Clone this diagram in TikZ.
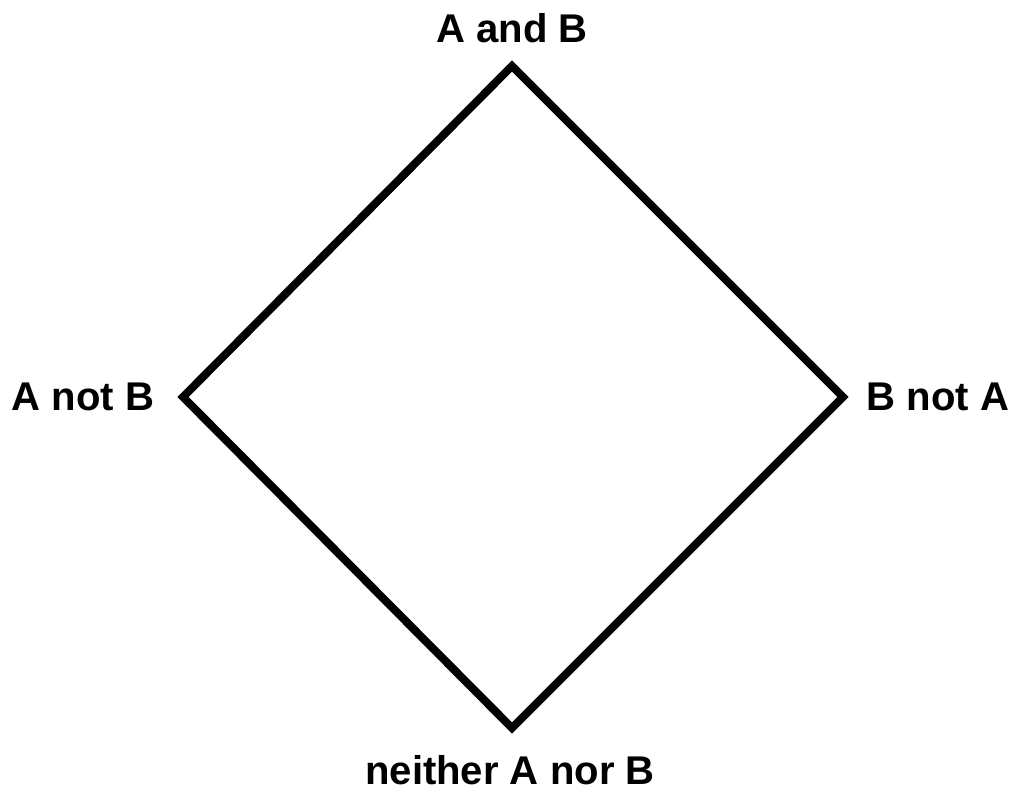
\documentclass[tikz,border=0pt]{standalone}
\usepackage{fontspec}
\setmainfont{Liberation Sans}
\begin{document}
\begin{tikzpicture}[x=0.01cm, y=-0.01cm,
    lbl/.style={font=\fontsize{11.4}{13}\selectfont\bfseries, inner sep=0pt},
    rand/.style={line width=0.08cm, black}]
            \useasboundingbox (0,0) rectangle (1011,789);

            % Hoekpunten
            \coordinate (AB) at (512,66);
            \coordinate (BnA) at (843,397);
            \coordinate (nAB) at (512,728);
            \coordinate (AnB) at (183,397);

            % Ruit
            \draw[rand] (AB) -- (BnA) -- (nAB) -- (AnB) -- cycle;

            % Labels
            \node[lbl] (lAB) at (512,28) {A and B};
            \node[lbl] (lAnB) at (83,397) {A not B};
            \node[lbl] (lBnA) at (938,397) {B not A};
            \node[lbl] (lnAB) at (510,770) {neither A nor B};
        \end{tikzpicture}
\end{document}
